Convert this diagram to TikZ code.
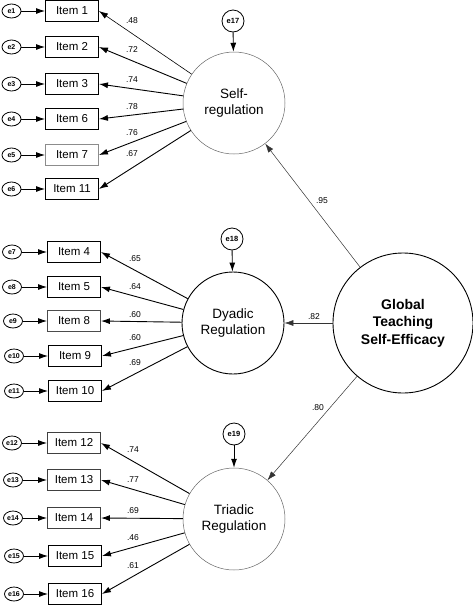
\documentclass[tikz,border=0pt]{standalone}
\usepackage{fontspec}
\setmainfont{Liberation Sans}
\usetikzlibrary{arrows.meta,shapes.geometric}

\begin{document}
\begin{tikzpicture}[x=1pt,y=-1pt,
	>={Latex[length=9pt,width=6pt]},
	item/.style={draw,line width=0.9pt,minimum width=53pt,minimum height=21pt,inner sep=0pt,font=\fontsize{11.5}{13}\selectfont},
	err/.style={draw,ellipse,line width=0.8pt,minimum width=19pt,minimum height=14pt,inner sep=0pt,font=\fontsize{7}{8}\selectfont\bfseries},
	dist/.style={draw,circle,line width=0.8pt,minimum size=22pt,inner sep=0pt,font=\fontsize{7.5}{8}\selectfont\bfseries},
	factor/.style={draw,circle,minimum size=102pt,inner sep=0pt,align=center,font=\fontsize{13.5}{16.5}\selectfont},
	load/.style={font=\fontsize{8.5}{9}\selectfont,inner sep=0pt},
	path/.style={->,line width=0.9pt},
	gpath/.style={->,line width=0.5pt,draw=black!80}]
\useasboundingbox (0,0) rectangle (473,606);

\node[factor,draw=black!60,line width=0.5pt] (self) at (234,103) {Self-\\regulation};
\node[factor,line width=0.9pt] (dyad) at (233,323) {Dyadic\\Regulation};
\node[factor,draw=black!60,line width=0.5pt] (triad) at (234,519) {Triadic\\Regulation};
\node[factor,line width=0.9pt,minimum size=140pt,font=\fontsize{14}{17.5}\selectfont\bfseries] (gtse) at (403,323) {Global\\Teaching\\Self-Efficacy};

\node[dist] (e17) at (233,21) {e17};
\node[dist] (e18) at (232,239) {e18};
\node[dist] (e19) at (234,434) {e19};

\node[item] (i1) at (72,11) {Item 1};
\node[item] (i2) at (72,47) {Item 2};
\node[item] (i3) at (72,84) {Item 3};
\node[item] (i6) at (72,119) {Item 6};
\node[item,draw=black!45] (i7) at (72,155) {Item 7};
\node[item] (i11) at (72,189) {Item 11};

\node[item] (i4) at (74,252) {Item 4};
\node[item] (i5) at (74,287) {Item 5};
\node[item,draw=black!70] (i8) at (74,321) {Item 8};
\node[item] (i9) at (75,356) {Item 9};
\node[item] (i10) at (75,391) {Item 10};

\node[item,draw=black!75] (i12) at (74,443) {Item 12};
\node[item,draw=black!75] (i13) at (74,480) {Item 13};
\node[item,draw=black!75] (i14) at (74,518) {Item 14};
\node[item] (i15) at (75,556) {Item 15};
\node[item] (i16) at (75,594) {Item 16};

\node[err] (e1) at (11.5,11) {e1};
\node[err] (e2) at (11.5,47) {e2};
\node[err] (e3) at (11.5,84) {e3};
\node[err] (e4) at (11.5,119) {e4};
\node[err] (e5) at (11.5,155) {e5};
\node[err] (e6) at (11.5,189) {e6};
\node[err] (e7) at (12,252) {e7};
\node[err] (e8) at (12,287) {e8};
\node[err] (e9) at (13,321) {e9};
\node[err] (e10) at (14,356) {e10};
\node[err] (e11) at (14,391) {e11};
\node[err] (e12) at (12,443) {e12};
\node[err] (e13) at (13,480) {e13};
\node[err] (e14) at (13,518) {e14};
\node[err] (e15) at (14,556) {e15};
\node[err] (e16) at (14,594) {e16};

\draw[path] (e1) -- (i1);
\draw[path] (e2) -- (i2);
\draw[path] (e3) -- (i3);
\draw[path] (e4) -- (i6);
\draw[path] (e5) -- (i7);
\draw[path] (e6) -- (i11);
\draw[path] (e7) -- (i4);
\draw[path] (e8) -- (i5);
\draw[path] (e9) -- (i8);
\draw[path] (e10) -- (i9);
\draw[path] (e11) -- (i10);
\draw[path] (e12) -- (i12);
\draw[path] (e13) -- (i13);
\draw[path] (e14) -- (i14);
\draw[path] (e15) -- (i15);
\draw[path] (e16) -- (i16);

\draw[path] (e17) -- (self);
\draw[path] (e18) -- (dyad);
\draw[path] (e19) -- (triad);

\draw[path,line width=0.6pt] (self) -- (i1.east);
\draw[path] (self) -- (i2.east);
\draw[path] (self) -- (i3.east);
\draw[path] (self) -- (i6.east);
\draw[path] (self) -- (i7.east);
\draw[path] (self) -- (i11.east);

\draw[path] (dyad) -- (i4.east);
\draw[path] (dyad) -- (i5.east);
\draw[path] (dyad) -- (i8.east);
\draw[path] (dyad) -- (i9.east);
\draw[path] (dyad) -- (i10.east);

\draw[path] (triad) -- (i12.east);
\draw[path] (triad) -- (i13.east);
\draw[path] (triad) -- (i14.east);
\draw[path] (triad) -- (i15.east);
\draw[path] (triad) -- (i16.east);

\draw[gpath] (gtse) -- (self);
\draw[gpath] (gtse) -- (dyad);
\draw[gpath] (gtse) -- (triad);

\node[load] (l1) at (132,21) {.48};
\node[load] (l2) at (132,50) {.72};
\node[load] (l3) at (132,80) {.74};
\node[load] (l6) at (132,107) {.78};
\node[load] (l7) at (132,133) {.76};
\node[load] (l11) at (132,154) {.67};

\node[load] (l4) at (135,259) {.65};
\node[load] (l5) at (135,287) {.64};
\node[load] (l8) at (135,315) {.60};
\node[load] (l9) at (135,338) {.60};
\node[load] (l10) at (135,363) {.69};

\node[load] (l12) at (133,450) {.74};
\node[load] (l13) at (133,480) {.77};
\node[load] (l14) at (133,511) {.69};
\node[load] (l15) at (133,538) {.46};
\node[load] (l16) at (133,566) {.61};

\node[load] (g1) at (322,201) {.95};
\node[load] (g2) at (314,317) {.82};
\node[load] (g3) at (318,408) {.80};
\end{tikzpicture}
\end{document}
